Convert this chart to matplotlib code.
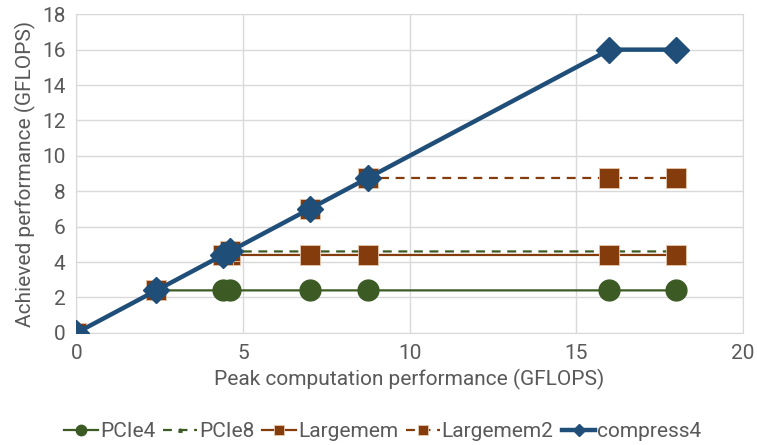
import numpy as np
import matplotlib.pyplot as plt

plt.rcParams['font.family'] = ['Roboto', 'DejaVu Sans']

peak = [0, 2.4, 4.4, 4.6, 7, 8.75, 16, 18]
pcie4 = [0, 2.4, 2.4, 2.4, 2.4, 2.4, 2.4, 2.4]
pcie8 = [0, 2.4, 4.4, 4.6, 4.6, 4.6, 4.6, 4.6]
largemem = [0, 2.4, 4.4, 4.4, 4.4, 4.4, 4.4, 4.4]
largemem2 = [0, 2.4, 4.4, 4.6, 7, 8.75, 8.75, 8.75]
compress4 = [0, 2.4, 4.4, 4.6, 7, 8.75, 16, 16]

green = '#3B5A24'
brown = '#843C0C'
blue = '#1F4E79'
grey = '#595959'

fig = plt.figure(figsize=(7.57, 4.45), dpi=100)
ax = fig.add_axes([0.101, 0.252, 0.880, 0.716])

ax.plot(peak, pcie4, color=green, lw=1.6, marker='o', ms=15, label='PCIe4', zorder=3)
ax.plot(peak, pcie8, color=green, lw=1.6, ls=(0, (4, 3)), marker='^', ms=5, label='PCIe8', zorder=3)
ax.plot(peak, largemem, color=brown, lw=1.6, marker='s', ms=15, mec='#E8C8B0', mew=0.6,
        label='Largemem', zorder=4)
ax.plot(peak, largemem2, color=brown, lw=1.6, ls=(0, (4, 3)), marker='s', ms=15, mec='#E8C8B0',
        mew=0.6, label='Largemem2', zorder=4)
ax.plot(peak, compress4, color=blue, lw=3.2, marker='D', ms=13, label='compress4', zorder=5)

ax.set_xlim(0, 20)
ax.set_ylim(0, 18)
ax.set_xticks(np.arange(0, 21, 5))
ax.set_yticks(np.arange(0, 19, 2))
ax.grid(color='#D9D9D9', lw=1)
ax.set_axisbelow(True)
for s in ax.spines.values():
    s.set_color('#D9D9D9')
ax.tick_params(length=0, labelsize=15, colors=grey, pad=8)
ax.set_xlabel('Peak computation performance (GFLOPS)', fontsize=15, color=grey, labelpad=4)
ax.set_ylabel('Achieved performance (GFLOPS)', fontsize=15, color=grey, labelpad=4)

leg = ax.legend(loc='center', bbox_to_anchor=(0.46, -0.31), ncol=5, frameon=False,
                fontsize=15, handlelength=1.6, handletextpad=0.1, columnspacing=0.4,
                markerscale=0.5)
for t in leg.get_texts():
    t.set_color(grey)

fig.savefig('out.png', dpi=100)
